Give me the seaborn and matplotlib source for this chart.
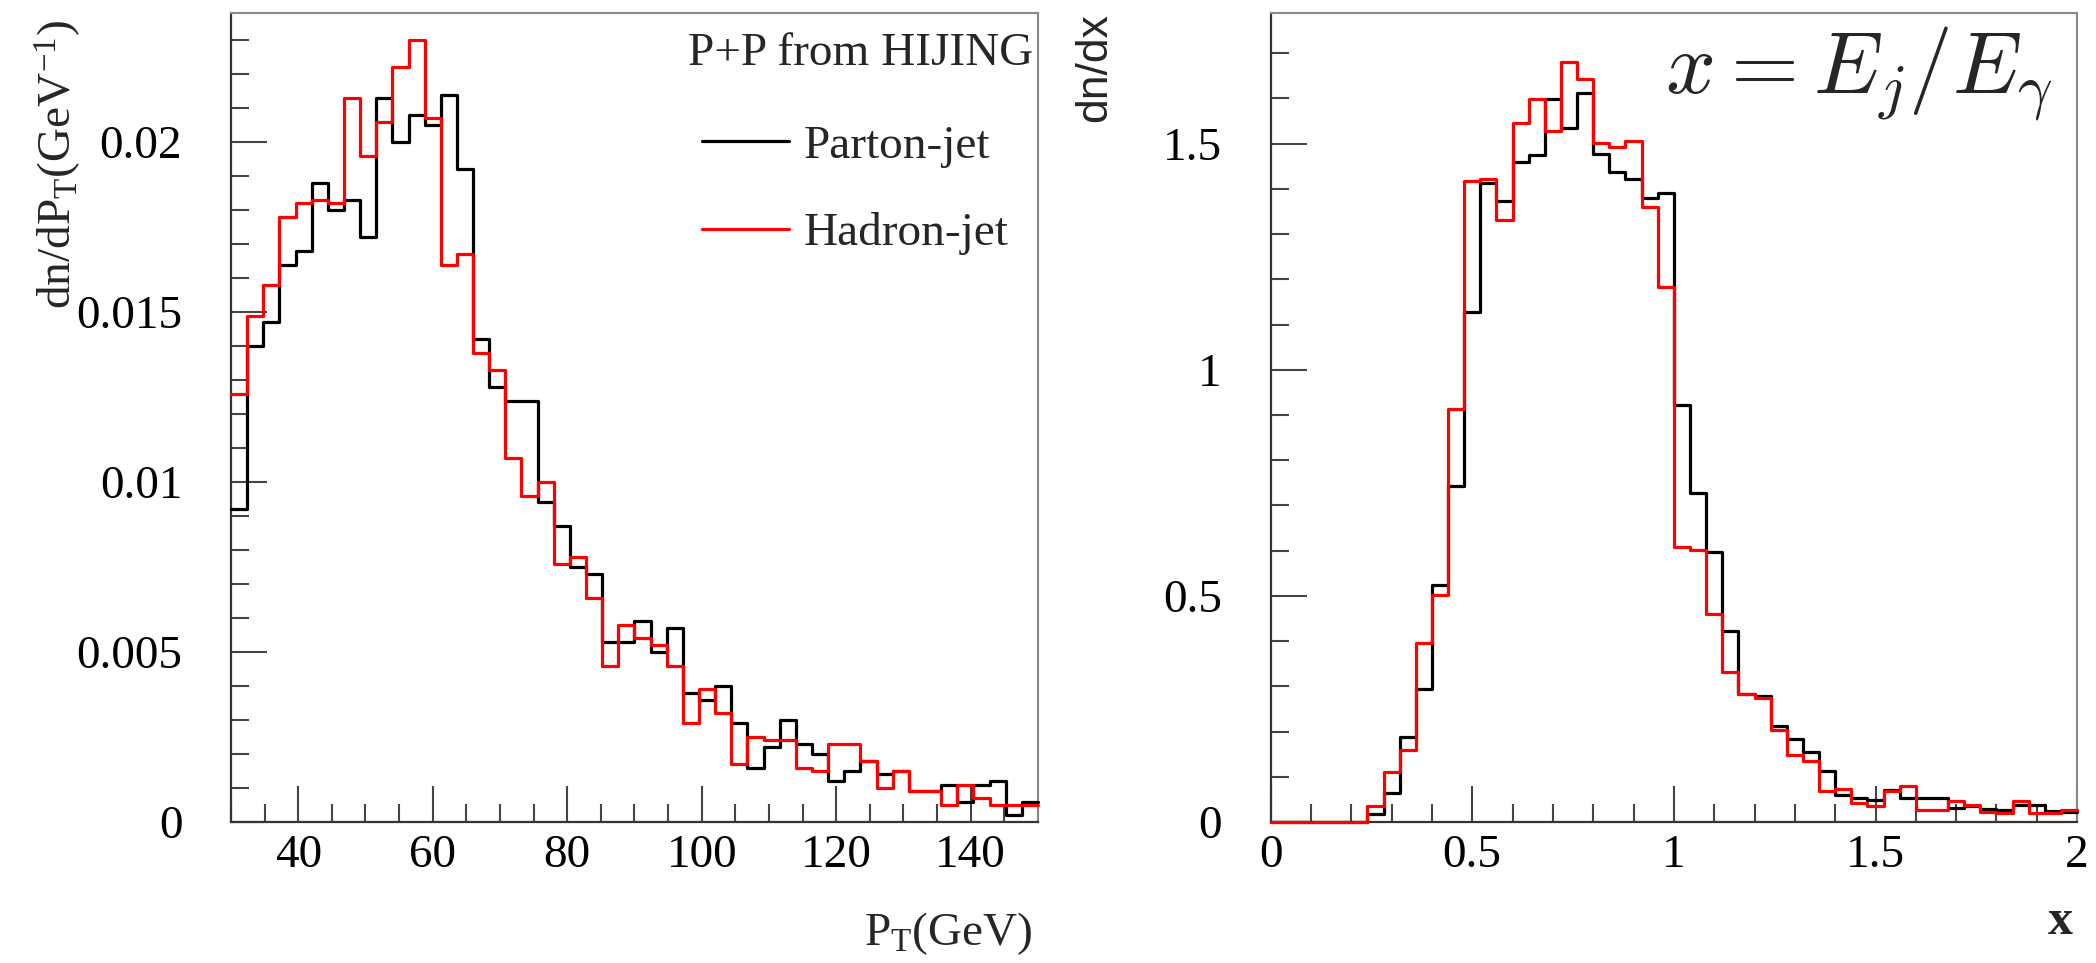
import numpy as np
import pandas as pd
import matplotlib
matplotlib.use("Agg")
import matplotlib.pyplot as plt
from matplotlib.lines import Line2D
from matplotlib.ticker import MultipleLocator, FixedLocator, FixedFormatter
import seaborn as sns

# ---------------- data ----------------
pt_lo, pt_hi, pt_nbins = 30, 150, 50
x_lo, x_hi, x_nbins = 0.0, 2.0, 50

pt_parton = [0.0092, 0.0140, 0.0147, 0.0164, 0.0168, 0.0188, 0.0180, 0.0183, 0.0172, 0.0213,
             0.0200, 0.0208, 0.0205, 0.0214, 0.0192, 0.0142, 0.0128, 0.0124, 0.0124, 0.0094,
             0.0087, 0.0075, 0.0073, 0.0053, 0.0053, 0.0059, 0.0050, 0.0057, 0.0038, 0.0036,
             0.0040, 0.0029, 0.0016, 0.0022, 0.0030, 0.0023, 0.0020, 0.0012, 0.0015, 0.0018,
             0.0014, 0.0015, 0.0009, 0.0009, 0.0011, 0.0006, 0.0011, 0.0012, 0.0002, 0.0006]
pt_hadron = [0.0126, 0.0149, 0.0158, 0.0178, 0.0182, 0.0183, 0.0182, 0.0213, 0.0196, 0.0206,
             0.0222, 0.0230, 0.0207, 0.0164, 0.0167, 0.0138, 0.0133, 0.0107, 0.0096, 0.0100,
             0.0076, 0.0078, 0.0066, 0.0046, 0.0058, 0.0054, 0.0052, 0.0046, 0.0029, 0.0039,
             0.0032, 0.0017, 0.0025, 0.0024, 0.0024, 0.0016, 0.0015, 0.0023, 0.0023, 0.0018,
             0.0010, 0.0015, 0.0009, 0.0009, 0.0005, 0.0011, 0.0007, 0.0005, 0.0005, 0.0005]

x_parton = [0, 0, 0, 0, 0, 0, 0.018, 0.064, 0.189, 0.294,
            0.524, 0.742, 1.128, 1.412, 1.373, 1.459, 1.475, 1.598, 1.534, 1.611,
            1.478, 1.438, 1.423, 1.379, 1.391, 0.922, 0.727, 0.597, 0.423, 0.283,
            0.278, 0.213, 0.183, 0.155, 0.112, 0.060, 0.054, 0.049, 0.071, 0.053,
            0.053, 0.053, 0.031, 0.036, 0.029, 0.027, 0.038, 0.038, 0.025, 0.023]
x_hadron = [0, 0, 0, 0, 0, 0, 0.036, 0.110, 0.160, 0.396,
            0.501, 0.913, 1.417, 1.423, 1.331, 1.546, 1.598, 1.528, 1.681, 1.644,
            1.502, 1.493, 1.506, 1.360, 1.182, 0.608, 0.602, 0.460, 0.331, 0.283,
            0.274, 0.204, 0.149, 0.136, 0.069, 0.073, 0.042, 0.036, 0.068, 0.079,
            0.027, 0.027, 0.046, 0.038, 0.023, 0.020, 0.046, 0.020, 0.020, 0.027]

series_labels = ["Parton-jet", "Hadron-jet"]
series_colors = ["black", "red"]

pt_xticks = [40, 60, 80, 100, 120, 140]
pt_xticklabels = ["40", "60", "80", "100", "120", "140"]
pt_yticks = [0, 0.005, 0.01, 0.015, 0.02]
pt_yticklabels = ["0", "0.005", "0.01", "0.015", "0.02"]
x_xticks = [0, 0.5, 1, 1.5, 2]
x_xticklabels = ["0", "0.5", "1", "1.5", "2"]
x_yticks = [0, 0.5, 1, 1.5]
x_yticklabels = ["0", "0.5", "1", "1.5"]

# ---------------- style ----------------
sns.set_theme(style="ticks")
plt.rcParams["font.family"] = ["Liberation Serif", "DejaVu Serif"]
plt.rcParams["mathtext.fontset"] = "custom"
plt.rcParams["mathtext.rm"] = "Liberation Serif"
plt.rcParams["mathtext.it"] = "Liberation Serif:italic"
plt.rcParams["mathtext.bf"] = "Liberation Serif:bold"

FS = 34
LW = 2.3

fig = plt.figure(figsize=(20.96, 9.63), dpi=100)
axL = fig.add_axes([0.1102, 0.1464, 0.3850, 0.8401])
axR = fig.add_axes([0.6062, 0.1464, 0.3848, 0.8401])


def draw(ax, lo, hi, n, series):
    edges = np.linspace(lo, hi, n + 1)
    centers = 0.5 * (edges[:-1] + edges[1:])
    for vals, lab, col in series:
        df = pd.DataFrame({"x": centers, "w": vals})
        sns.histplot(data=df, x="x", weights="w", bins=edges.tolist(), element="step",
                     fill=False, color=col, linewidth=LW, ax=ax, label=lab,
                     zorder=3, clip_on=False)


def style(ax, xlim, ylim, xt, xtl, xminor, yt, ytl, yminor):
    ax.set_xlim(*xlim)
    ax.set_ylim(*ylim)
    ax.xaxis.set_major_locator(FixedLocator(xt))
    ax.xaxis.set_major_formatter(FixedFormatter(xtl))
    ax.yaxis.set_major_locator(FixedLocator(yt))
    ax.yaxis.set_major_formatter(FixedFormatter(ytl))
    ax.xaxis.set_minor_locator(MultipleLocator(xminor))
    ax.yaxis.set_minor_locator(MultipleLocator(yminor))
    ax.tick_params(which="both", direction="in", top=False, right=False,
                   color="#444444", width=1.5, labelcolor="black")
    ax.tick_params(which="major", length=26, labelsize=FS)
    ax.tick_params(which="minor", length=13)
    ax.tick_params(axis="x", which="major", pad=9)
    ax.tick_params(axis="y", which="major", pad=35)
    for s in ["left", "bottom"]:
        ax.spines[s].set_color("#333333")
        ax.spines[s].set_linewidth(1.6)
    for s in ["top", "right"]:
        ax.spines[s].set_color("#8a8a8a")
        ax.spines[s].set_linewidth(1.5)
    ax.set_facecolor("white")


draw(axL, pt_lo, pt_hi, pt_nbins,
     [(pt_parton, series_labels[0], series_colors[0]),
      (pt_hadron, series_labels[1], series_colors[1])])
draw(axR, x_lo, x_hi, x_nbins,
     [(x_parton, series_labels[0], series_colors[0]),
      (x_hadron, series_labels[1], series_colors[1])])

style(axL, (pt_lo, pt_hi), (0, 0.0238), pt_xticks, pt_xticklabels, 5,
      pt_yticks, pt_yticklabels, 0.001)
style(axR, (x_lo, x_hi), (0, 1.789), x_xticks, x_xticklabels, 0.1,
      x_yticks, x_yticklabels, 0.1)

# axis titles
axL.set_ylabel(r"dn/dP$_{\mathrm{T}}$(GeV$^{-1}$)", fontsize=34, loc="top")
axL.yaxis.set_label_coords(-0.183, 0.991)
axL.set_xlabel(r"P$_{\mathrm{T}}$(GeV)", fontsize=34, loc="right")
axL.xaxis.set_label_coords(0.994, -0.109)

axR.set_ylabel("dn/dx", fontsize=32, loc="top",
               family=["Liberation Sans", "DejaVu Sans"])
axR.yaxis.set_label_coords(-0.193, 1.0)
axR.set_xlabel("x", fontsize=36, fontweight="bold", loc="right")
axR.xaxis.set_label_coords(0.995, -0.095)

# annotations
axL.text(0.994, 0.936, "P+P from HIJING", transform=axL.transAxes,
         ha="right", va="baseline", fontsize=34)
axR.text(0.969, 0.902, r"$x = E_j/E_\gamma$", transform=axR.transAxes,
         ha="right", va="baseline", fontsize=63, math_fontfamily="cm")

handles = [Line2D([], [], color=c, lw=LW) for c in series_colors]
axL.legend(handles, series_labels, loc="upper left", bbox_to_anchor=(0.584, 0.862),
           frameon=False, fontsize=34, handlelength=1.83, handletextpad=0.32,
           labelspacing=0.94, borderpad=0, borderaxespad=0)

fig.savefig("out.png", dpi=100, facecolor="white")
